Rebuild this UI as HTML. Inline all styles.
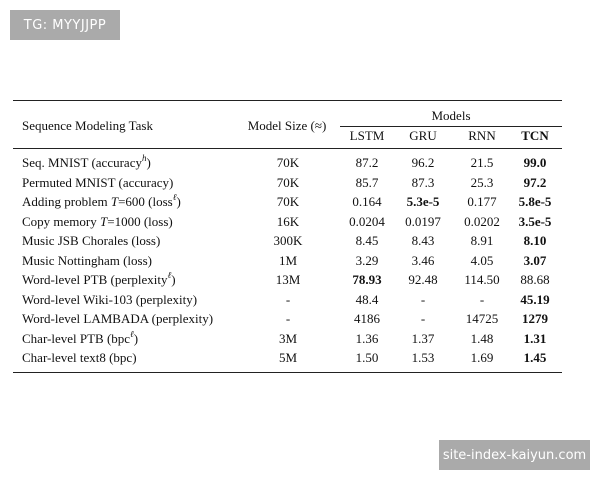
<!DOCTYPE html>
<html><head><meta charset="utf-8"><style>
body{margin:0;width:600px;height:480px;background:#fff;position:relative;overflow:hidden;font-family:"Liberation Serif",serif;font-size:13px;color:#111}
.b{position:absolute;background:#aaa;color:#fff;font-family:"DejaVu Sans","Liberation Sans",sans-serif;font-size:13px;display:flex;align-items:center;justify-content:center}
.r{position:absolute;height:0;border-top:1px solid #222}
.t{position:absolute;white-space:nowrap;line-height:16px;height:16px}
.c{position:absolute;width:80px;text-align:center;white-space:nowrap;line-height:16px}
b{font-weight:bold}
sup{font-size:9px;line-height:0;font-style:italic;vertical-align:6px}
i{font-style:italic}
</style></head><body>
<div class="b" style="left:10px;top:10px;width:110px;height:30px;letter-spacing:0.5px">TG: MYYJJPP</div>
<div class="b" style="left:439px;top:440px;width:151px;height:30px">site-index-kaiyun.com</div>
<div class="r" style="left:13px;top:100px;width:549px;border-top-width:1.5px"></div>
<div class="r" style="left:340px;top:126px;width:222px"></div>
<div class="r" style="left:13px;top:148px;width:549px"></div>
<div class="r" style="left:13px;top:372px;width:549px;border-top-width:1.5px"></div>
<div class="t" style="left:22px;top:118px">Sequence Modeling Task</div>
<div class="c" style="top:118px;width:90px;left:242px">Model Size (≈)</div>
<div class="c" style="left:411px;top:108px">Models</div>
<div class="c" style="left:327px;top:128px">LSTM</div>
<div class="c" style="left:383px;top:128px">GRU</div>
<div class="c" style="left:442px;top:128px">RNN</div>
<div class="c" style="left:495px;top:128px"><b>TCN</b></div>
<div id="rows"></div>
<script>
var d=[
["Seq. MNIST (accuracy<sup>h</sup>)","70K","87.2","96.2","21.5","<b>99.0</b>"],
["Permuted MNIST (accuracy)","70K","85.7","87.3","25.3","<b>97.2</b>"],
["Adding problem <i>T</i>=600 (loss<sup>ℓ</sup>)","70K","0.164","<b>5.3e-5</b>","0.177","<b>5.8e-5</b>"],
["Copy memory <i>T</i>=1000 (loss)","16K","0.0204","0.0197","0.0202","<b>3.5e-5</b>"],
["Music JSB Chorales (loss)","300K","8.45","8.43","8.91","<b>8.10</b>"],
["Music Nottingham (loss)","1M","3.29","3.46","4.05","<b>3.07</b>"],
["Word-level PTB (perplexity<sup>ℓ</sup>)","13M","<b>78.93</b>","92.48","114.50","88.68"],
["Word-level Wiki-103 (perplexity)","-","48.4","-","-","<b>45.19</b>"],
["Word-level LAMBADA (perplexity)","-","4186","-","14725","<b>1279</b>"],
["Char-level PTB (bpc<sup>ℓ</sup>)","3M","1.36","1.37","1.48","<b>1.31</b>"],
["Char-level text8 (bpc)","5M","1.50","1.53","1.69","<b>1.45</b>"]];
var xs=[288,367,423,482,535],h="";
d.forEach(function(r,i){var y=155+i*19.5;
h+='<div class="t" style="left:22px;top:'+y+'px">'+r[0]+'</div>';
for(var j=1;j<6;j++)h+='<div class="c" style="left:'+(xs[j-1]-40)+'px;top:'+y+'px">'+r[j]+'</div>';});
document.getElementById("rows").innerHTML=h;
</script>
</body></html>
